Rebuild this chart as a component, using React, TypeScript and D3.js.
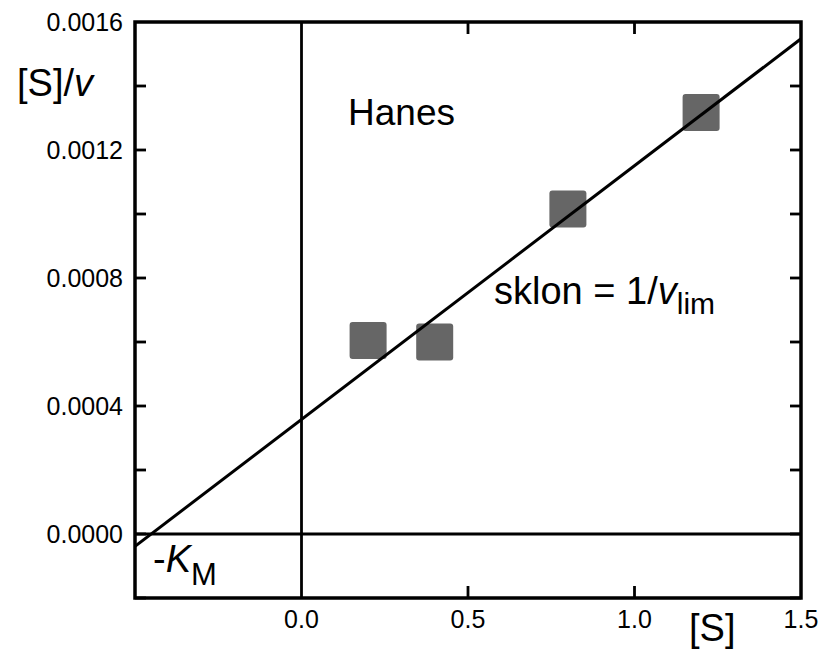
import React from "react";
import * as d3 from "d3";

// Hanes–Woolf plot: [S]/v against [S]
const substrate = [0.2, 0.4, 0.8, 1.2];
const ratio = [0.000605, 0.0006, 0.001016, 0.001317];

// fitted straight line: intercept = K_M / v_lim, slope = 1 / v_lim
const fitIntercept = 0.000358;
const fitSlope = 0.000793;

const xTickValues = [0.0, 0.5, 1.0, 1.5];
const xTickLabels = ["0.0", "0.5", "1.0", "1.5"];
const yTickValues = [0.0, 0.0004, 0.0008, 0.0012, 0.0016];
const yTickLabels = ["0.0000", "0.0004", "0.0008", "0.0012", "0.0016"];
const yMinorValues = [-0.0002, 0.0, 0.0002, 0.0004, 0.0006, 0.0008, 0.001, 0.0012, 0.0014];

const W = 823;
const H = 656;
const left = 135;
const right = 801;
const top = 22;
const bottom = 598;

const FONT = "'Liberation Sans', Arial, Helvetica, sans-serif";

export default function App() {
  const x = d3.scaleLinear().domain([-0.5, 1.5]).range([left, right]);
  const y = d3.scaleLinear().domain([-0.0002, 0.0016]).range([bottom, top]);

  const fitLine = d3
    .line<number>()
    .x((d) => x(d))
    .y((d) => y(fitIntercept + fitSlope * d));

  const sq = 37;
  const tickLen = 11;

  return (
    <svg
      width={W}
      height={H}
      style={{ position: "fixed", left: 0, top: 0, background: "#fff" }}
      fontFamily={FONT}
    >
      <defs>
        <clipPath id="plot-area">
          <rect x={left} y={top} width={right - left} height={bottom - top} />
        </clipPath>
      </defs>

      {/* zero axes */}
      <line x1={x(0)} x2={x(0)} y1={top} y2={bottom} stroke="#000" strokeWidth={2.8} />
      <line x1={left} x2={right} y1={y(0)} y2={y(0)} stroke="#000" strokeWidth={2.8} />

      {/* side ticks, pointing inward */}
      {yMinorValues.map((v, i) => (
        <g key={"yt" + i}>
          <line x1={left} x2={left + tickLen} y1={y(v)} y2={y(v)} stroke="#000" strokeWidth={2.8} />
          <line x1={right - tickLen} x2={right} y1={y(v)} y2={y(v)} stroke="#000" strokeWidth={2.8} />
        </g>
      ))}
      {[0.5, 1.0].map((v, i) => (
        <g key={"xt" + i}>
          <line x1={x(v)} x2={x(v)} y1={bottom} y2={bottom - 12} stroke="#000" strokeWidth={2.8} />
          <line x1={x(v)} x2={x(v)} y1={top} y2={top + 12} stroke="#000" strokeWidth={2.8} />
        </g>
      ))}

      {/* data points */}
      {substrate.map((s, i) => (
        <rect
          key={"p" + i}
          x={x(s) - sq / 2}
          y={y(ratio[i]) - sq / 2}
          width={sq}
          height={sq}
          rx={3}
          fill="#666666"
        />
      ))}

      {/* fitted line */}
      <path
        d={fitLine([-0.5, 1.5]) || ""}
        fill="none"
        stroke="#000"
        strokeWidth={3}
        clipPath="url(#plot-area)"
      />

      {/* frame */}
      <rect
        x={left}
        y={top}
        width={right - left}
        height={bottom - top}
        fill="none"
        stroke="#000"
        strokeWidth={3.5}
      />

      {/* tick labels */}
      {yTickValues.map((v, i) => (
        <text
          key={"yl" + i}
          x={left - 12}
          y={y(v)}
          dy="0.36em"
          textAnchor="end"
          fontSize={25}
          fill="#000"
        >
          {yTickLabels[i]}
        </text>
      ))}
      {xTickValues.map((v, i) => (
        <text key={"xl" + i} x={x(v)} y={628} textAnchor="middle" fontSize={25} fill="#000">
          {xTickLabels[i]}
        </text>
      ))}

      {/* axis titles */}
      <text x={17} y={96} fontSize={38} fill="#000">
        [S]/<tspan fontStyle="italic">v</tspan>
      </text>
      <text x={689} y={641} fontSize={38} fill="#000">
        [S]
      </text>

      {/* annotations */}
      <text x={348} y={125} fontSize={37} fill="#000">
        Hanes
      </text>
      <text x={494} y={304} fontSize={38} fill="#000">
        sklon = 1/<tspan fontStyle="italic">v</tspan>
        <tspan fontSize={30} dy={10}>lim</tspan>
      </text>
      <text x={153} y={572} fontSize={38} fill="#000">
        -<tspan fontStyle="italic">K</tspan>
        <tspan fontSize={31} dy={13}>M</tspan>
      </text>
    </svg>
  );
}
